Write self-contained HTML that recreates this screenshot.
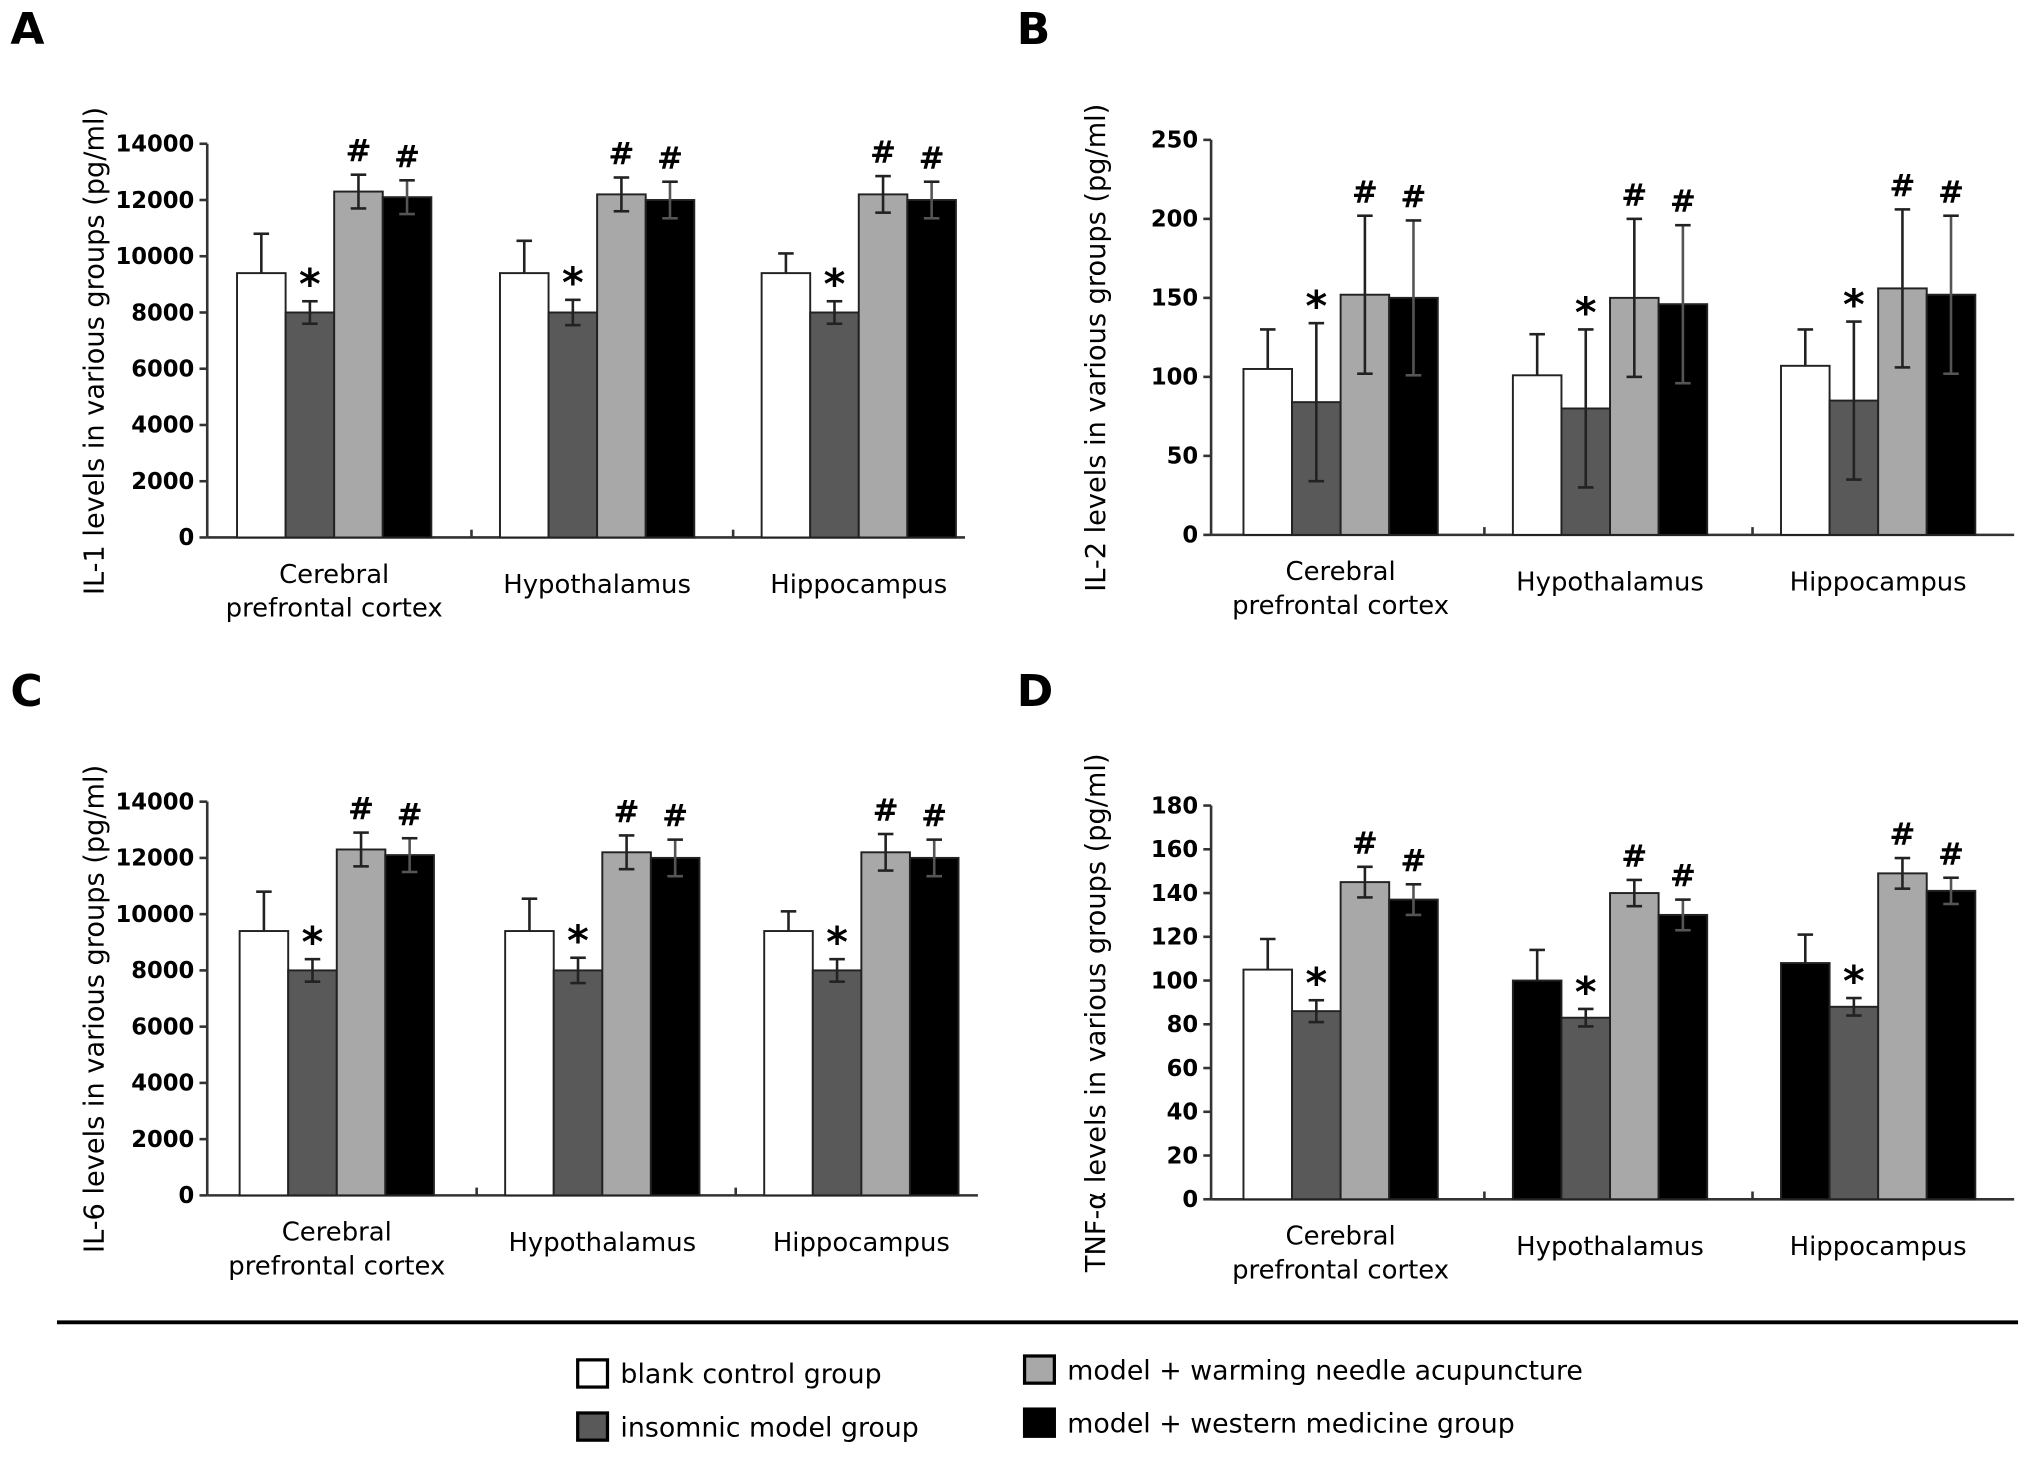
<!DOCTYPE html>
<html><head><meta charset="utf-8"><style>
html,body{margin:0;padding:0;background:#fff;}
svg{display:block;}
text{font-family:"DejaVu Sans","Liberation Sans",Arial,sans-serif;}
</style></head><body>
<svg id="fig" width="2031" height="1457" viewBox="0 0 1568 1125" preserveAspectRatio="none" xmlns="http://www.w3.org/2000/svg">
<line x1="44" y1="1021" x2="1558" y2="1021" stroke="#000" stroke-width="3"/>
<g>
<rect x="446" y="1050" width="23" height="21" fill="#fff" stroke="#000" stroke-width="2.5"/>
<text x="479" y="1068" font-size="20.7">blank control group</text>
<rect x="446" y="1091" width="23" height="21" fill="#595959" stroke="#000" stroke-width="2.5"/>
<text x="479" y="1109" font-size="20.7">insomnic model group</text>
<rect x="791" y="1047" width="23" height="21" fill="#a8a8a8" stroke="#000" stroke-width="2.5"/>
<text x="824" y="1065" font-size="20.7">model + warming needle acupuncture</text>
<rect x="791" y="1088" width="23" height="21" fill="#000" stroke="#000" stroke-width="2.5"/>
<text x="824" y="1106" font-size="20.7">model + western medicine group</text>
</g>
</svg>
<script>
// Panel data
const categories = ["Cerebral|prefrontal cortex","Hypothalamus","Hippocampus"];
const aValues = [[9400,8000,12300,12100],[9400,8000,12200,12000],[9400,8000,12200,12000]];
const aErrors = [[1400,400,600,600],[1150,450,600,650],[700,400,650,650]];
const bValues = [[105,84,152,150],[101,80,150,146],[107,85,156,152]];
const bErrors = [[25,50,50,49],[26,50,50,50],[23,50,50,50]];
const cValues = [[9400,8000,12300,12100],[9400,8000,12200,12000],[9400,8000,12200,12000]];
const cErrors = [[1400,400,600,600],[1150,450,600,650],[700,400,650,650]];
const dValues = [[105,86,145,137],[100,83,140,130],[108,88,149,141]];
const dErrors = [[14,5,7,7],[14,4,6,7],[13,4,7,6]];
const aTicks = [0,2000,4000,6000,8000,10000,12000,14000];
const bTicks = [0,50,100,150,200,250];
const dTicks = [0,20,40,60,80,100,120,140,160,180];
const marks = [["","*","#","#"],["","*","#","#"],["","*","#","#"]];

const NS="http://www.w3.org/2000/svg";
const svg=document.getElementById('fig');
function el(tag,attrs,parent){const e=document.createElementNS(NS,tag);for(const k in attrs)e.setAttribute(k,attrs[k]);(parent||svg).appendChild(e);return e;}
const fills=["#fff","#595959","#a8a8a8","#000"];

function panel(p){
  const g=el('g',{});
  
  
  const max=p.ticks[p.ticks.length-1];
  const y=v=>p.y0-(v/max)*(p.y0-p.yTop);
  const lab=el('text',{x:p.lx,y:p.ly,'font-size':34,'font-weight':'bold'},g);lab.textContent=p.id;
  
  
  const t=el('text',{transform:`translate(${p.tx},${(p.y0+p.yTop)/2+8}) rotate(-90)`,'text-anchor':'middle','font-size':21},g);t.textContent=p.title;
  
  
  el('line',{x1:p.ax,y1:p.yTop,x2:p.ax,y2:p.y0,stroke:'#333','stroke-width':2},g);
  el('line',{x1:p.ax,y1:p.y0,x2:p.xEnd,y2:p.y0,stroke:'#333','stroke-width':2},g);
  p.ticks.forEach(v=>{
    el('line',{x1:p.ax-6,y1:y(v),x2:p.ax,y2:y(v),stroke:'#333','stroke-width':2},g);
    const tt=el('text',{x:p.ax-10,y:y(v)+6,'text-anchor':'end','font-size':17.5,'font-weight':'bold'},g);tt.textContent=v;
    
    
  });
  const bw=37.5;
  categories.forEach((c,gi)=>{
    const gx=p.gx[gi];
    if(gi>0) el('line',{x1:gx-22,y1:p.y0,x2:gx-22,y2:p.y0-6,stroke:'#333','stroke-width':2},g);
    p.values[gi].forEach((v,bi)=>{
      const x=gx+bi*bw;
      let f=fills[bi]; if(p.blackFirst&&gi>0&&bi===0)f="#000";
      const r=el('rect',{x:x,y:y(v),width:bw,height:p.y0-y(v),fill:f,stroke:'#222','stroke-width':1.5},g);
      
      
      const e=p.errors[gi][bi], cx=x+bw/2;
      const lo=(bi===0)?v:v-e;
      el('line',{x1:cx,y1:y(v+e),x2:cx,y2:y(lo),stroke:bi===3?'#555':'#222','stroke-width':2},g);
      el('line',{x1:cx-6,y1:y(v+e),x2:cx+6,y2:y(v+e),stroke:'#222','stroke-width':2},g);
      if(bi>0) el('line',{x1:cx-6,y1:y(v-e),x2:cx+6,y2:y(v-e),stroke:bi===3?'#555':'#222','stroke-width':2},g);
      const m=marks[gi][bi];
      if(m){const mt=el('text',{x:cx,y:y(v+e)-(m==='*'?2:10),'text-anchor':'middle','font-size':m==='*'?32:24,'font-weight':'bold'},g);mt.textContent=m;
        
        }
    });
    const parts=c.split('|'); const cx=gx+2*bw;
    parts.forEach((s,i)=>{
      const yy=parts.length>1?p.y0+35+i*26:p.y0+43;
      const ct=el('text',{x:cx,y:yy,'text-anchor':'middle','font-size':20},g);ct.textContent=s;
      
      
    });
  });
}
panel({id:'A',lx:8,ly:34,tx:80,title:'IL-1 levels in various groups (pg/ml)',ax:160,y0:415,yTop:111,xEnd:745,gx:[183,386,588],ticks:aTicks,values:aValues,errors:aErrors});
panel({id:'B',lx:785,ly:34,tx:853,title:'IL-2 levels in various groups (pg/ml)',ax:935,y0:413,yTop:108,xEnd:1555,gx:[960,1168,1375],ticks:bTicks,values:bValues,errors:bErrors});
panel({id:'C',lx:8,ly:545,tx:80,title:'IL-6 levels in various groups (pg/ml)',ax:160,y0:923,yTop:619,xEnd:755,gx:[185,390,590],ticks:aTicks,values:cValues,errors:cErrors});
panel({id:'D',lx:785,ly:545,tx:853,title:'TNF-α levels in various groups (pg/ml)',ax:935,y0:926,yTop:622,xEnd:1555,gx:[960,1168,1375],ticks:dTicks,values:dValues,errors:dErrors,blackFirst:true});
</script>
</body></html>
